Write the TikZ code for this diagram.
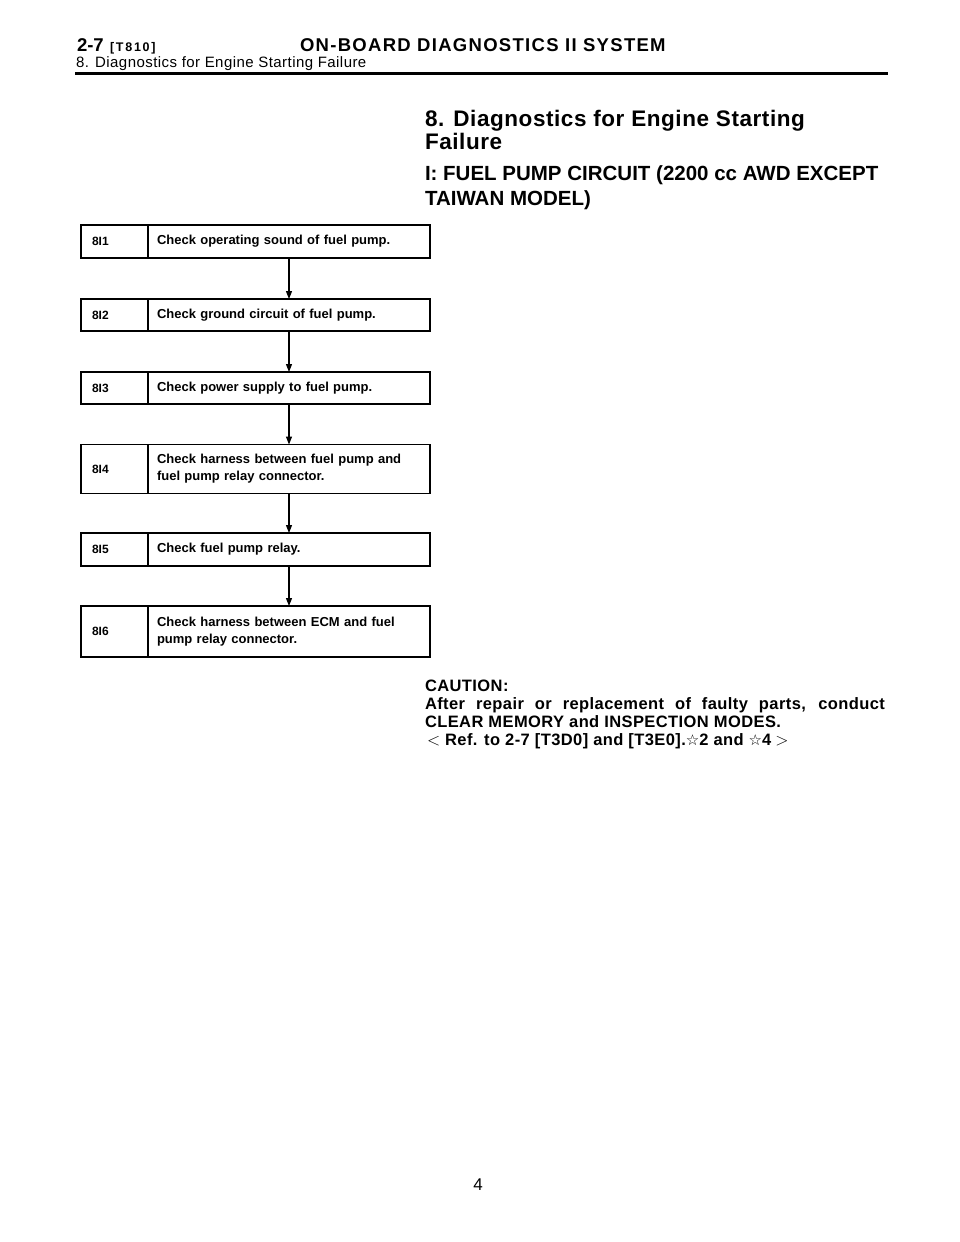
\documentclass[tikz,border=0pt]{standalone}
\usepackage{fontspec}
\setmainfont{Liberation Sans}
\newfontfamily\djv{DejaVu Sans}
\newfontfamily\lsA[LetterSpace=7]{Liberation Sans}
\newfontfamily\lsB[LetterSpace=14]{Liberation Sans}
\newfontfamily\lsC[LetterSpace=3]{Liberation Sans}
\newfontfamily\lsD[LetterSpace=2.5]{Liberation Sans}
\usetikzlibrary{arrows.meta}
\tikzset{
  every node/.style={inner sep=0pt, outer sep=0pt},
  numbox/.style={draw, line width=1.2pt, minimum width=67pt, text width=45pt, inner xsep=11pt, align=left, font=\fontsize{12}{17}\selectfont\bfseries},
  txtbox/.style={draw, line width=1.2pt, minimum width=282pt, text width=264pt, inner xsep=9pt, align=left, font=\fontsize{13}{17}\selectfont\bfseries},
  flow/.style={line width=1.2pt, -{Triangle[width=6pt,length=8pt]}},
  txt/.style={anchor=base west, font=\bfseries},
  caut/.style={anchor=base west, font=\lsD\fontsize{16.5}{18}\selectfont\bfseries}
}
\begin{document}
\begin{tikzpicture}[x=1pt, y=-1pt]
\useasboundingbox[fill=white] (0,0) rectangle (960,1242);
% header
\node[txt, font=\fontsize{18.5}{20}\selectfont\bfseries] (hnum) at (77,51) {2-7};
\node[txt, font=\lsB\fontsize{12.5}{13}\selectfont\bfseries] (hcode) at (110,51) {[T810]};
\node[txt, font=\lsA\fontsize{18.5}{20}\selectfont\bfseries] (htitle) at (300,51) {ON-BOARD DIAGNOSTICS II SYSTEM};
\node[anchor=base west, font=\lsC\fontsize{15}{16}\selectfont] (hsub) at (76,67) {8. Diagnostics for Engine Starting Failure};
\coordinate (rl) at (75,73.5);
\coordinate (rr) at (888,73.5);
\draw[line width=3pt] (rl) -- (rr);
% titles
\node[txt, font=\lsD\fontsize{22.5}{26}\selectfont\bfseries] (t1) at (425,126) {8. Diagnostics for Engine Starting};
\node[txt, font=\lsD\fontsize{22.5}{26}\selectfont\bfseries] (t2) at (425,149) {Failure};
\node[txt, font=\fontsize{20.5}{24}\selectfont\bfseries] (t3) at (425,180) {I: FUEL PUMP CIRCUIT (2200 cc AWD EXCEPT};
\node[txt, font=\fontsize{20.5}{24}\selectfont\bfseries] (t4) at (425,205) {TAIWAN MODEL)};
% flow boxes
\node[numbox, minimum height=33pt] (n1) at (114.5,241.5) {8I1};
\node[txtbox, minimum height=33pt] (b1) at (289,241.5) {Check operating sound of fuel pump.};
\node[numbox, minimum height=32pt] (n2) at (114.5,315) {8I2};
\node[txtbox, minimum height=32pt] (b2) at (289,315) {Check ground circuit of fuel pump.};
\node[numbox, minimum height=32pt] (n3) at (114.5,388) {8I3};
\node[txtbox, minimum height=32pt] (b3) at (289,388) {Check power supply to fuel pump.};
\node[numbox, minimum height=49pt] (n4) at (114.5,469) {8I4};
\node[txtbox, minimum height=49pt] (b4) at (289,469) {Check harness between fuel pump and\\fuel pump relay connector.};
\node[numbox, minimum height=33pt] (n5) at (114.5,549.5) {8I5};
\node[txtbox, minimum height=33pt] (b5) at (289,549.5) {Check fuel pump relay.};
\node[numbox, minimum height=51pt] (n6) at (114.5,631.5) {8I6};
\node[txtbox, minimum height=51pt] (b6) at (289,631.5) {Check harness between ECM and fuel\\pump relay connector.};
\draw[flow] (b1) -- (b2);
\draw[flow] (b2) -- (b3);
\draw[flow] (b3) -- (b4);
\draw[flow] (b4) -- (b5);
\draw[flow] (b5) -- (b6);
% caution
\node[caut] (c1) at (425,691) {CAUTION:};
\node[caut] (c2) at (425,709) {\makebox[460pt][s]{After repair or replacement of faulty parts, conduct}};
\node[caut] (c3) at (425,727) {CLEAR MEMORY and INSPECTION MODES.};
\node[caut] (c4) at (425,745) {\kern2pt$<$\kern5pt Ref. to 2-7 [T3D0] and [T3E0].{\djv\mdseries\fontsize{15}{15}\selectfont ☆}2 and {\djv\mdseries\fontsize{15}{15}\selectfont ☆}4\kern4pt$>$};
% page number
\node[anchor=base, font=\fontsize{17}{19}\selectfont] (pg) at (478,1190) {4};
\end{tikzpicture}
\end{document}
